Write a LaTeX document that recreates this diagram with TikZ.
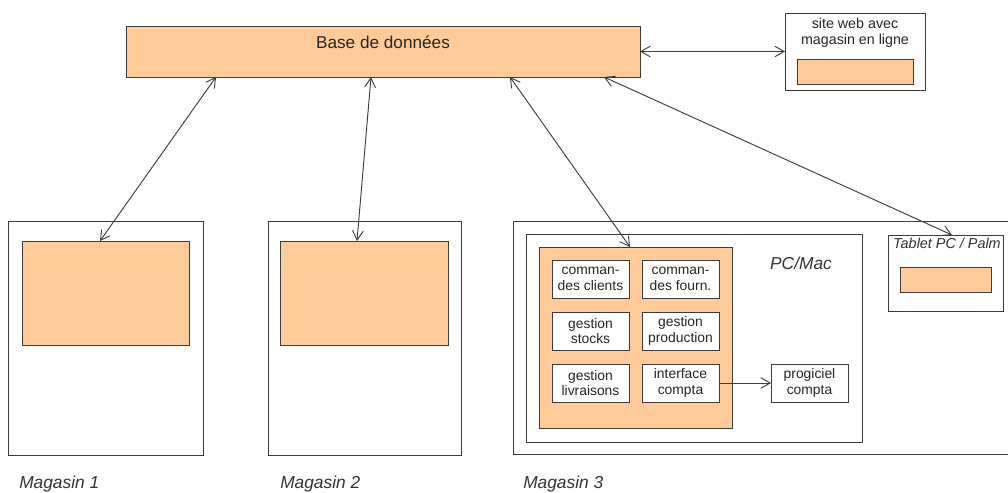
\documentclass[tikz,border=0pt]{standalone}
\usepackage{fontspec}
\setmainfont{Liberation Sans}
\usetikzlibrary{arrows.meta,calc}
\definecolor{peach}{HTML}{FFCC99}
\definecolor{ink}{HTML}{3C3C3C}
\newcommand{\pxbox}[7][]{%
  \pgfmathsetmacro{\cxx}{(#3+#5)/2}%
  \pgfmathsetmacro{\cyy}{(#4+#6)/2}%
  \pgfmathsetmacro{\wxx}{(#5-#3)*0.75}%
  \pgfmathsetmacro{\hxx}{(#6-#4)*0.75}%
  \node[#1,minimum width=\wxx pt,minimum height=\hxx pt] (#2) at (\cxx,\cyy) {#7};}
\tikzset{
  frame/.style={draw=ink,fill=white,line width=0.75pt,inner sep=0pt,outer sep=0pt},
  peachbox/.style={frame,fill=peach},
  smallbox/.style={frame,align=center,font=\fontsize{10.4}{11.6}\selectfont,text=black!85},
  link/.style={draw=ink,line width=0.7pt,{Straight Barb[length=7pt,width=8pt]}-{Straight Barb[length=7pt,width=8pt]}},
  onelink/.style={draw=ink,line width=0.7pt,-{Straight Barb[length=7pt,width=8pt]}},
  caption/.style={inner sep=0pt,font=\fontsize{13}{15}\selectfont\itshape,text=black!80}
}
\begin{document}
\begin{tikzpicture}[x=0.75pt,y=-0.75pt]
\clip (0,0) rectangle (1008,493);
\fill[white] (0,0) rectangle (1008,493);
\pxbox[peachbox]{base}{126}{26}{640}{77}{}
\node[font=\fontsize{12.9}{15}\selectfont,text=black!85] (basetext) at (383,42) {Base de données};
\pxbox[frame]{site}{785}{13}{925}{90}{}
\pxbox[peachbox]{siteinner}{797}{59}{913}{84}{}
\node[smallbox,draw=none,fill=none,font=\fontsize{10.7}{11.6}\selectfont] (sitetext) at (855,33) {site web avec\\magasin en ligne};
\pxbox[frame]{mag1}{8}{221}{203}{455}{}
\pxbox[peachbox]{mag1inner}{22}{241}{189}{345}{}
\pxbox[frame]{mag2}{268}{221}{461}{455}{}
\pxbox[peachbox]{mag2inner}{280}{241}{448}{345}{}
\pxbox[frame]{mag3}{513}{221}{1014}{454}{}
\pxbox[frame]{pc}{526}{234}{862}{442}{}
\pxbox[peachbox]{core}{539}{247}{732}{428}{}
\pxbox[smallbox]{cmdcl}{552}{260}{629}{298}{comman-\\des clients}
\pxbox[smallbox]{cmdfo}{642}{260}{719}{298}{comman-\\des fourn.}
\pxbox[smallbox]{stocks}{552}{312}{629}{350}{gestion\\stocks}
\pxbox[smallbox]{prod}{642}{312}{719}{350}{gestion\\production}
\pxbox[smallbox]{livr}{552}{364}{629}{402}{gestion\\livraisons}
\pxbox[smallbox]{iface}{642}{364}{719}{402}{interface\\compta}
\pxbox[smallbox]{progi}{771}{364}{848}{402}{progiciel\\compta}
\pxbox[frame]{tablet}{888}{235}{1003}{311}{}
\pxbox[peachbox]{tabinner}{900}{267}{991}{292}{}
\node[caption] (pctext) at (801,263) {PC/Mac};
\node[caption,font=\fontsize{10.8}{12}\selectfont\itshape] (tabtext) at (947,243) {Tablet PC / Palm};
\node[caption,anchor=west] (m1) at (19,484) {Magasin 1};
\node[caption,anchor=west] (m2) at (280,484) {Magasin 2};
\node[caption,anchor=west] (m3) at (523,484) {Magasin 3};
\draw[link] ($(base.south west)+(90,0)$) -- ($(mag1inner.north west)+(78,0)$);
\draw[link] ($(base.south west)+(245,0)$) -- ($(mag2inner.north west)+(77,0)$);
\draw[link] ($(base.south west)+(384,0)$) -- ($(core.north west)+(91,0)$);
\draw[link] ($(base.south west)+(478,0)$) -- ($(tablet.north west)+(64,0)$);
\draw[link] (base.east) -- (base.east -| site.west);
\draw[onelink] (iface.east) -- (iface.east -| progi.west);
\end{tikzpicture}
\end{document}
